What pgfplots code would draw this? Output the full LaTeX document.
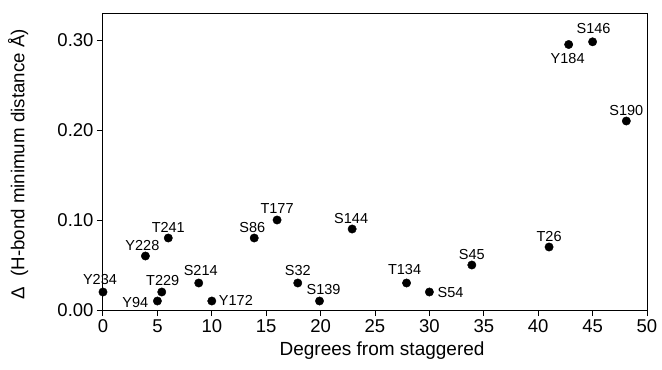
\documentclass[border=0pt]{standalone}
\usepackage{pgfplots}
\pgfplotsset{compat=1.18}
\usepackage{fontspec}
\setmainfont{Liberation Sans}
\begin{document}
\begin{tikzpicture}
\begin{axis}[
  at={(0,0)}, anchor=south west,
  scale only axis,
  width=544bp, height=296bp,
  xmin=0, xmax=50, ymin=0, ymax=0.3289,
  xtick={0,5,...,50},
  ytick={0,0.1,0.2,0.3},
  tick align=outside,
  xtick pos=left, ytick pos=left,
  major tick length=6bp,
  axis line style={line width=1bp},
  every tick/.style={black, line width=1bp},
  /pgf/number format/assume math mode=true,
  yticklabel style={/pgf/number format/.cd, fixed, fixed zerofill, precision=2},
  xticklabel style={/pgf/number format/.cd, fixed},
  tick label style={font=\fontsize{18.5bp}{20bp}\selectfont},
  xlabel={Degrees from staggered},
  ylabel={Δ\ \ (H-bond minimum distance Å)},
  every axis x label/.style={at={(axis description cs:0.513,-0.138)}, anchor=center, font=\fontsize{19bp}{20bp}\selectfont},
  every axis y label/.style={at={(axis description cs:-0.156,0.492)}, rotate=90, anchor=center, font=\fontsize{18.7bp}{20bp}\selectfont},
  clip=false,
]
\addplot[only marks, mark=*, mark size=4.2bp, black,
  point meta=explicit symbolic,
  nodes near coords,
  visualization depends on={value \thisrow{anc}\as\anc},
  visualization depends on={value \thisrow{dx}\as\dx},
  visualization depends on={value \thisrow{dy}\as\dy},
  every node near coord/.append style={anchor=\anc, xshift=\dx bp, yshift=\dy bp, inner sep=0pt, font=\fontsize{14.5bp}{16bp}\selectfont, text=black}
] table[meta=lab] {
x y lab anc dx dy
0 0.02 Y234 base -3 8
5 0.01 Y94 {base east} -9 -6
5.4 0.02 T229 base 1 7
3.9 0.06 Y228 base -3 6
6 0.08 T241 base 0 6
8.8 0.03 S214 base 2 8
10 0.01 Y172 {base west} 7 -4
13.9 0.08 S86 base -2 6
16 0.10 T177 base 0 7
17.9 0.03 S32 base 0 8
19.9 0.01 S139 base 4 7
22.9 0.09 S144 base -1 6
27.9 0.03 T134 base -2 9
30 0.02 S54 {base west} 8 -5
33.9 0.05 S45 base 0 6
41 0.07 T26 base 0 6
42.8 0.295 Y184 base -1 -19
45 0.298 S146 base 1 8
48.1 0.21 S190 base 0 6
};
\end{axis}
\pgfresetboundingbox
\path[use as bounding box] (-103bp,-60bp) rectangle (559bp,310bp);
\end{tikzpicture}
\end{document}
